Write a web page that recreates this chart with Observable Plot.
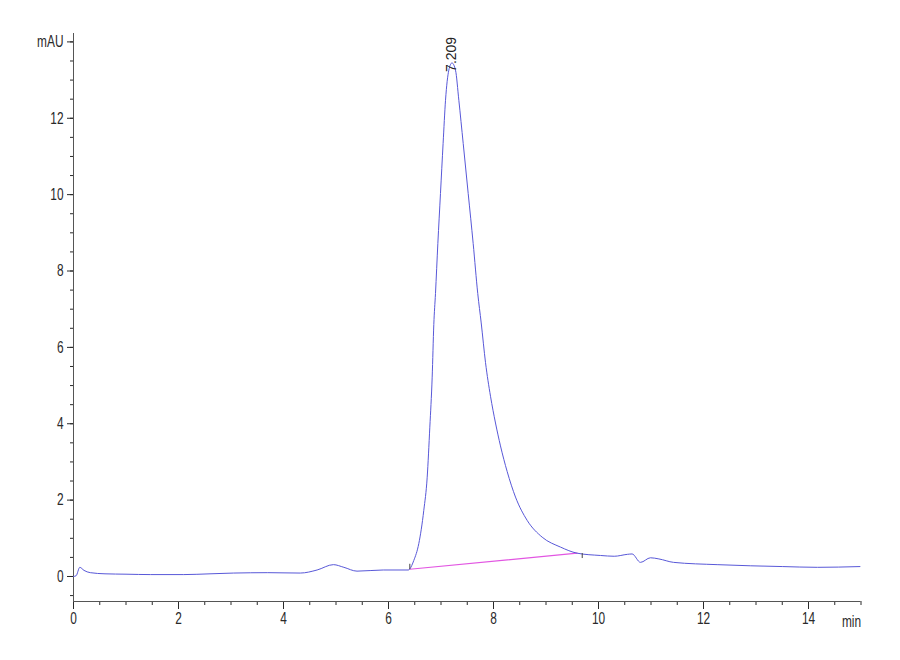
<!DOCTYPE html>
<html>
<head>
<meta charset="utf-8">
<script src="https://cdn.jsdelivr.net/npm/d3@7"></script>
<script src="https://cdn.jsdelivr.net/npm/@observablehq/plot@0.6"></script>
<style>
  html, body { margin: 0; padding: 0; background: #ffffff; }
  #chart { width: 900px; height: 660px; }
</style>
</head>
<body>
<div id="chart"></div>
<script>
// Chromatogram trace (retention time in min, absorbance in mAU)
const time = [
  0.00, 0.05, 0.12, 0.20, 0.32, 0.60, 1.00, 1.47, 2.10, 2.60, 3.05, 3.70, 4.32, 4.64,
  4.95, 5.15, 5.40, 5.90, 6.38, 6.406, 6.482, 6.577, 6.672, 6.737, 6.787, 6.832, 6.863,
  6.895, 6.94, 6.99, 7.04, 7.086, 7.149, 7.209, 7.276, 7.34, 7.423, 7.518, 7.613, 7.70,
  7.766, 7.848, 7.943, 8.038, 8.133, 8.26, 8.419, 8.641, 8.927, 9.276, 9.594, 10.04, 10.30,
  10.55, 10.64, 10.80, 10.99, 11.15, 11.43, 12.26, 12.90, 13.50, 14.17, 14.98
];
const signal = [
  0.00, 0.02, 0.24, 0.16, 0.10, 0.07, 0.06, 0.05, 0.05, 0.07, 0.09, 0.10, 0.09, 0.17,
  0.31, 0.24, 0.14, 0.17, 0.17, 0.20, 0.42, 0.86, 1.73, 2.60, 3.91, 5.22, 6.60,
  7.41, 8.72, 10.03, 11.34, 12.47, 13.26, 13.45, 13.26, 12.47, 11.34, 10.03, 8.72, 7.41,
  6.64, 5.60, 4.72, 4.02, 3.42, 2.75, 2.08, 1.47, 1.03, 0.77, 0.61, 0.55, 0.53,
  0.58, 0.59, 0.37, 0.49, 0.46, 0.37, 0.31, 0.28, 0.26, 0.24, 0.26
];

// Integration baseline (drop line under the peak)
const baselineTime = [6.406, 9.594];
const baselineSignal = [0.19, 0.61];

// Integration start / end markers
const markerTime = [6.406, 9.69];
const markerLow = [0.18, 0.47];
const markerHigh = [0.32, 0.60];

// Peak annotation
const peakTime = [7.209];
const peakHeight = [13.45];
const peakLabels = ["7.209"];

// Axis ticks
const xTicks = [0, 2, 4, 6, 8, 10, 12, 14];
const xTickLabels = ["0", "2", "4", "6", "8", "10", "12", "14"];
const xUnit = ["min"];
const yTicks = [0, 2, 4, 6, 8, 10, 12, 14];
const yTickLabels = ["0", "2", "4", "6", "8", "10", "12", "mAU"];
const xMinor = d3.range(0, 15.01, 0.5);
const yMinor = d3.range(-0.5, 14.01, 0.5);
const xDomain = [0, 15];
const yDomain = [-0.655, 14.22];

const trace = time.map((t, i) => ({ t, v: signal[i] }));
const baseline = baselineTime.map((t, i) => ({ t, v: baselineSignal[i] }));
const markers = markerTime.map((t, i) => ({ t, lo: markerLow[i], hi: markerHigh[i] }));
const peaks = peakTime.map((t, i) => ({ t, h: peakHeight[i], label: peakLabels[i] }));

const fontFam = '"Liberation Sans", Arial, sans-serif';

const chart = Plot.plot({
  width: 900,
  height: 660,
  marginLeft: 73,
  marginRight: 39.5,
  marginTop: 33,
  marginBottom: 59,
  x: { domain: xDomain },
  y: { domain: yDomain },
  style: { fontFamily: fontFam, fontSize: "16.5px", color: "#2a2a2a", background: "#ffffff" },
  marks: [
    Plot.axisX({ ticks: xMinor, tickSize: 4, tickFormat: () => "", label: null }),
    Plot.axisX({
      ticks: xTicks, tickSize: 8, tickPadding: 3, label: null, className: "narrow",
      tickFormat: d => xTickLabels[xTicks.indexOf(d)]
    }),
    Plot.axisY({ ticks: yMinor, tickSize: 3, tickFormat: () => "", label: null }),
    Plot.axisY({
      ticks: yTicks, tickSize: 6, tickPadding: 4, label: null, className: "narrow",
      tickFormat: d => yTickLabels[yTicks.indexOf(d)]
    }),
    Plot.ruleX([xDomain[0]], { stroke: "#555" }),
    Plot.ruleY([yDomain[0]], { stroke: "#555" }),
    Plot.text(xUnit, {
      frameAnchor: "bottom-right", text: d => d, textAnchor: "end", className: "narrow",
      lineAnchor: "middle", dy: 20, fill: "#2a2a2a"
    }),
    Plot.line(baseline, { x: "t", y: "v", stroke: "#e256e2", strokeWidth: 1.2 }),
    Plot.line(trace, { x: "t", y: "v", stroke: "#5858d8", strokeWidth: 1, curve: "monotone-x" }),
    Plot.ruleX(markers, { x: "t", y1: "lo", y2: "hi", stroke: "#444", strokeWidth: 1 }),
    Plot.text(peaks, {
      x: "t", y: "h", text: "label", rotate: -90, textAnchor: "start",
      lineAnchor: "middle", dy: 9, fontSize: 14, fill: "#222"
    })
  ]
});

// condense axis text horizontally (the reference uses a narrow, tall face)
chart.querySelectorAll("text").forEach(t => {
  let g = t.closest("g");
  if (!g || !/narrow/.test(g.getAttribute("class") || "")) return;
  const tr = t.getAttribute("transform") || "";
  t.setAttribute("transform", (tr + " scale(0.72,1)").trim());
});

document.getElementById("chart").appendChild(chart);
</script>
</body>
</html>
